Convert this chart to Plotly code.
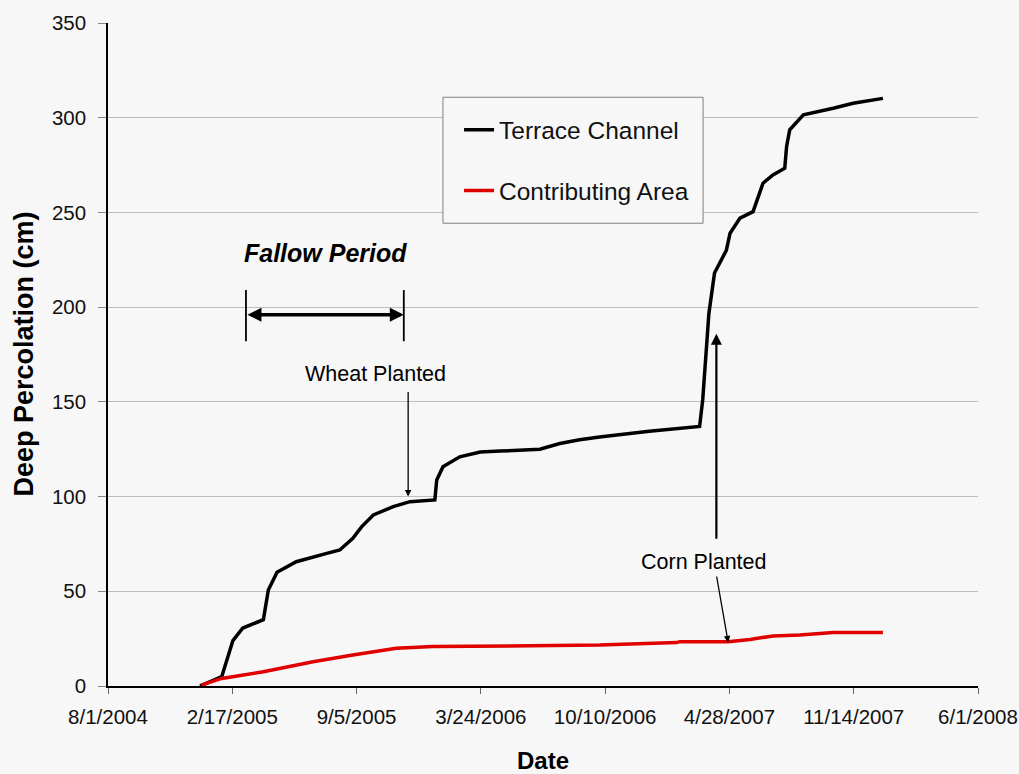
import plotly.graph_objects as go

# Terrace Channel (black)
tc_dates = ["2004-12-27", "2005-01-10", "2005-01-31", "2005-02-18", "2005-03-06", "2005-04-08",
            "2005-04-16", "2005-04-30", "2005-05-31", "2005-07-19", "2005-08-09", "2005-08-30",
            "2005-09-13", "2005-10-02", "2005-11-03", "2005-11-30", "2006-01-09", "2006-01-12",
            "2006-01-22", "2006-02-18", "2006-03-23", "2006-04-24", "2006-06-27", "2006-07-29",
            "2006-08-30", "2006-10-01", "2006-12-20", "2007-03-11", "2007-03-16", "2007-03-26",
            "2007-04-04", "2007-04-23", "2007-04-29", "2007-05-15", "2007-06-05", "2007-06-21",
            "2007-07-07", "2007-07-26", "2007-07-29", "2007-08-03", "2007-08-25", "2007-10-12",
            "2007-11-13", "2007-12-31"]
tc_vals = [0, 1.8, 4.9, 24, 30.6, 35,
           50.7, 60, 65.6, 70, 71.8, 78,
           84, 90.3, 94.7, 97.3, 98.2, 108.8,
           115.8, 121, 123.5, 124, 125, 128,
           130, 131.5, 134.5, 137, 151, 196.8,
           218, 230, 239, 247, 250.4, 265.4,
           269.8, 273.3, 284.8, 293.6, 301.5, 305,
           307.6, 310.2]

# Contributing Area (red)
ca_dates = ["2004-12-29", "2005-01-31", "2005-04-08", "2005-06-27", "2005-08-30", "2005-11-08",
            "2006-01-06", "2006-04-24", "2006-10-01", "2007-02-02", "2007-02-07", "2007-04-26",
            "2007-05-31", "2007-07-07", "2007-08-19", "2007-10-12", "2007-12-31"]
ca_vals = [0.5, 4, 7.5, 12.8, 16.4, 19.9,
           20.8, 21.1, 21.6, 22.9, 23.4, 23.4,
           24.6, 26.4, 26.9, 28.3, 28.3]

x_tick_vals = ["2004-08-01", "2005-02-17", "2005-09-05", "2006-03-24", "2006-10-10",
               "2007-04-28", "2007-11-14", "2008-06-01"]
x_tick_text = ["8/1/2004", "2/17/2005", "9/5/2005", "3/24/2006", "10/10/2006",
               "4/28/2007", "11/14/2007", "6/1/2008"]
y_tick_vals = [0, 50, 100, 150, 200, 250, 300, 350]

fallow_start, fallow_end, fallow_y = "2005-03-11", "2005-11-20", 196
wheat_date, wheat_val = "2005-11-27", 98
corn_date, corn_val = "2007-04-26", 23.0

FONT = "Arial, Liberation Sans, sans-serif"
BG = "#f7f7f7"

fig = go.Figure()
fig.add_trace(go.Scatter(x=tc_dates, y=tc_vals, mode="lines", name="Terrace Channel",
                         legendgroup="a", line=dict(color="black", width=3.5)))
fig.add_trace(go.Scatter(x=ca_dates, y=ca_vals, mode="lines", name="Contributing Area",
                         legendgroup="b", line=dict(color="#e00000", width=3.5)))

ann = []
ann.append(dict(x="2005-07-17", y=228.6, text="<b><i>Fallow Period</i></b>", showarrow=False,
                font=dict(family=FONT, size=25, color="black")))
ann.append(dict(x=fallow_end, y=fallow_y, ax=fallow_start, ay=fallow_y, axref="x", ayref="y",
                text="", showarrow=True, arrowhead=2, arrowside="end+start", arrowwidth=3.5,
                arrowsize=0.8, arrowcolor="black"))
ann.append(dict(x="2005-10-06", y=164.7, text="Wheat Planted", showarrow=False,
                font=dict(family=FONT, size=21.5, color="black")))
ann.append(dict(x=wheat_date, y=wheat_val + 2, ax=wheat_date, ay=156, axref="x", ayref="y",
                text="", showarrow=True, arrowhead=2, arrowwidth=1.3, arrowsize=1,
                arrowcolor="black"))
ann.append(dict(x="2007-03-18", y=65.5, text="Corn Planted", showarrow=False,
                font=dict(family=FONT, size=21.5, color="black")))
ann.append(dict(x=corn_date, y=corn_val, ax="2007-04-07", ay=58.6, axref="x", ayref="y",
                text="", showarrow=True, arrowhead=2, arrowwidth=1.3, arrowsize=1,
                arrowcolor="black"))
ann.append(dict(x="2007-04-07", y=186, ax="2007-04-07", ay=77, axref="x", ayref="y",
                text="", showarrow=True, arrowhead=2, arrowwidth=2.2, arrowsize=1,
                arrowcolor="black"))
# y-axis title
ann.append(dict(x=-0.0977, y=0.5, xref="paper", yref="paper", xanchor="center", yanchor="middle",
                text="<b>Deep Percolation (cm)</b>", textangle=-90, showarrow=False,
                font=dict(family=FONT, size=27, color="black")))

shapes = []
for d in (fallow_start, fallow_end):
    shapes.append(dict(type="line", xref="x", yref="y", x0=d, x1=d, y0=182, y1=209,
                       line=dict(color="black", width=1.8)))
# legend frame
shapes.append(dict(type="rect", xref="paper", yref="paper", x0=0.385, x1=0.684, y0=0.698, y1=0.888,
                   fillcolor=BG, line=dict(color="#808080", width=1), layer="above"))

fig.update_layout(
    width=1019, height=774,
    margin=dict(l=108, r=41, t=23, b=88, autoexpand=False),
    paper_bgcolor=BG, plot_bgcolor=BG,
    font=dict(family=FONT, size=20, color="black"),
    showlegend=True,
    legend=dict(x=0.4035, y=0.873, xanchor="left", yanchor="top",
                bgcolor="rgba(0,0,0,0)", borderwidth=0,
                font=dict(family=FONT, size=24.5, color="#111111"),
                traceorder="grouped", tracegroupgap=26, itemwidth=30),
    annotations=ann, shapes=shapes,
    xaxis=dict(type="date", range=["2004-08-01", "2008-06-01"],
               tickvals=x_tick_vals, ticktext=x_tick_text, automargin=False,
               ticks="outside", ticklen=6, tickcolor="#666666", ticklabelstandoff=6,
               showgrid=False, zeroline=False,
               showline=True, linecolor="black", linewidth=1.5,
               tickfont=dict(family=FONT, size=20.5, color="#111111"),
               title=dict(text="<b>Date</b>", font=dict(family=FONT, size=24), standoff=28)),
    yaxis=dict(range=[0, 350], tickvals=y_tick_vals, automargin=False,
               ticks="outside", ticklen=8, tickcolor="#888888", ticklabelstandoff=8,
               showgrid=True, gridcolor="#bdbdbd", gridwidth=1, zeroline=False,
               showline=True, linecolor="black", linewidth=1.5,
               tickfont=dict(family=FONT, size=20.5, color="#111111")),
)

fig.write_html("out.html", config={"displayModeBar": False},
               post_script="document.body.style.margin='0';document.body.style.background='%s';" % BG)
